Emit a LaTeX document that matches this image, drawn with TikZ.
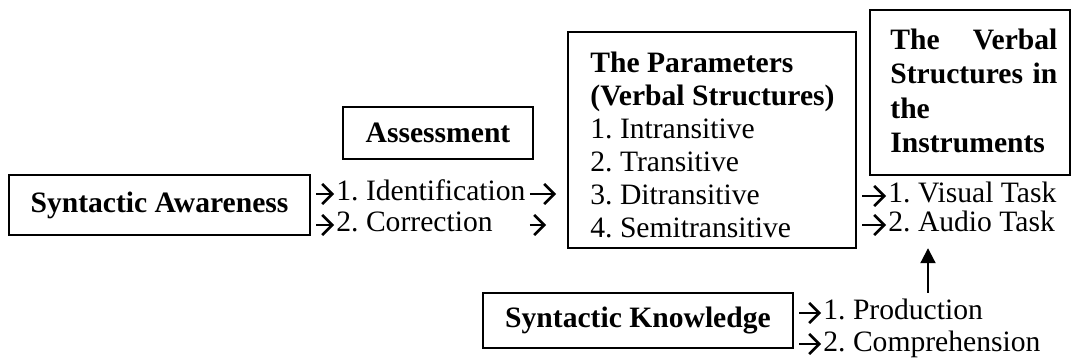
\documentclass[tikz,border=0pt]{standalone}
\usepackage{fontspec}
\setmainfont{Liberation Serif}
\usetikzlibrary{arrows.meta}
\newcommand\diagfont{\fontsize{14.8pt}{16.5pt}\selectfont\frenchspacing}
\tikzset{
  box/.style = {rectangle, draw=black, line width=1pt, inner sep=0pt, font=\diagfont\bfseries},
  item/.style = {anchor=base west, inner sep=0pt, text height=0.95em, text depth=0.25em},
  tick/.style = {line width=1.3pt, -{Straight Barb[length=5pt,width=10pt]}, shorten <=2.5pt, shorten >=1pt},
  lift/.style = {line width=1pt, -{Triangle[length=7.5pt,width=7.5pt]}}
}
\begin{document}
\begin{tikzpicture}[x=0.5pt, y=-0.5pt, font=\diagfont]
  \useasboundingbox[fill=white] (0,0) rectangle (1073,358);
  % boxes
  \node (aw) [box, minimum width=150.5pt, minimum height=30pt] at (159.5,205) {Syntactic Awareness};
  \node (as) [box, minimum width=95pt, minimum height=26pt] at (438,133) {Assessment};
  \node (pm) [box, minimum width=144pt, minimum height=108pt] at (712,140) {};
  \node (vs) [box, minimum width=100pt, minimum height=82.5pt] at (970,92.5) {};
  \node (sk) [box, minimum width=155pt, minimum height=27.5pt] at (638,320.5) {Syntactic Knowledge};
  % box texts
  \node (pmtext) [anchor=north west, inner sep=0pt, align=left] at (590,51.3)
    {\textbf{The Parameters}\\ \textbf{(Verbal Structures)}\\ 1. Intransitive\\ 2. Transitive\\ 3. Ditransitive\\ 4. Semitransitive};
  \node (vstext) [anchor=north west, inner sep=0pt, text width=83.5pt, align=left,
    font=\fontsize{14.8pt}{17.25pt}\selectfont\bfseries] at (890,28.4)
    {The\hfill Verbal\\ Structures\hfill in\\ the\\ Instruments};
  % items
  \node (idf) [item] at (336,201) {1. Identification};
  \node (cor) [item] at (336,232) {2. Correction};
  \node (vis) [item] at (888,203) {1. Visual Task};
  \node (aud) [item] at (888,232) {2. Audio Task};
  \node (prd) [item] at (823,320) {1. Production};
  \node (cmp) [item] at (823,351) {2. Comprehension};
  % arrows
  \draw [tick] (aw.east |- idf.west) -- (idf.west);
  \draw [tick] (aw.east |- cor.west) -- (cor.west);
  \draw [tick, shorten <=2pt, shorten >=5.5pt] (idf.east) -- (idf.east -| pm.west);
  \draw [tick, shorten <=18.5pt, shorten >=10.5pt] (cor.east) -- (cor.east -| pm.west);
  \draw [tick] (pm.east |- vis.west) -- (vis.west);
  \draw [tick] (pm.east |- aud.west) -- (aud.west);
  \draw [tick] (sk.east |- prd.west) -- (prd.west);
  \draw [tick] (sk.east |- cmp.west) -- (cmp.west);
  \coordinate (foot) at (928,293);
  \draw [lift, shorten >=5.4pt] (foot) -- (foot |- aud.south);
\end{tikzpicture}
\end{document}
